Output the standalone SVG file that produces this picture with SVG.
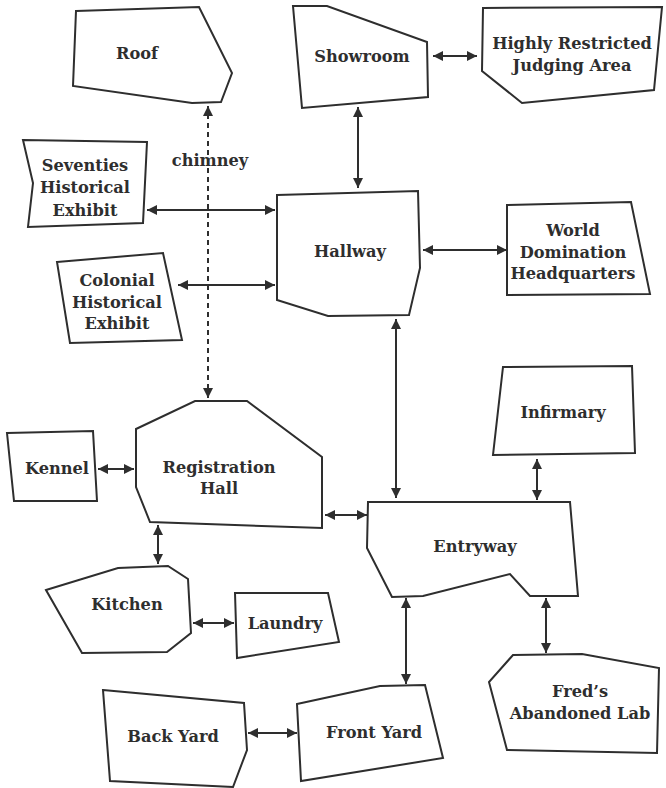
<svg xmlns="http://www.w3.org/2000/svg" width="666" height="788" viewBox="0 0 666 788">
<defs>
<marker id="ah" viewBox="0 0 10 10" refX="10" refY="5" markerWidth="5.5" markerHeight="5" orient="auto-start-reverse" markerUnits="strokeWidth">
<path d="M0,0 L10,5 L0,10 z" fill="#2e2e2e"/>
</marker>
<style>
.n{fill:#fff;stroke:#2e2e2e;stroke-width:2;stroke-linejoin:miter}
.t{font-family:"DejaVu Serif","Liberation Serif",serif;font-weight:bold;font-size:16.2px;fill:#2e2e2e;text-anchor:middle}
.c{fill:none;stroke:#2e2e2e;stroke-width:2}
.d{stroke-dasharray:5,4}
</style>
</defs>
<rect width="666" height="788" fill="#fff"/>
<g id="connectors">
<line class="c d" x1="208" y1="398" x2="208" y2="106" marker-start="url(#ah)" marker-end="url(#ah)"/>
<line class="c" x1="433" y1="56" x2="477" y2="56" marker-start="url(#ah)" marker-end="url(#ah)"/>
<line class="c" x1="358" y1="107" x2="358" y2="188" marker-start="url(#ah)" marker-end="url(#ah)"/>
<line class="c" x1="147" y1="210" x2="275" y2="210" marker-start="url(#ah)" marker-end="url(#ah)"/>
<line class="c" x1="178" y1="285" x2="275" y2="285" marker-start="url(#ah)" marker-end="url(#ah)"/>
<line class="c" x1="423" y1="250" x2="507" y2="250" marker-start="url(#ah)" marker-end="url(#ah)"/>
<line class="c" x1="396" y1="319" x2="396" y2="498" marker-start="url(#ah)" marker-end="url(#ah)"/>
<line class="c" x1="98" y1="469" x2="134" y2="469" marker-start="url(#ah)" marker-end="url(#ah)"/>
<line class="c" x1="325" y1="515" x2="367" y2="515" marker-start="url(#ah)" marker-end="url(#ah)"/>
<line class="c" x1="158" y1="525" x2="158" y2="564" marker-start="url(#ah)" marker-end="url(#ah)"/>
<line class="c" x1="537" y1="459" x2="537" y2="500" marker-start="url(#ah)" marker-end="url(#ah)"/>
<line class="c" x1="193" y1="623" x2="234" y2="623" marker-start="url(#ah)" marker-end="url(#ah)"/>
<line class="c" x1="406" y1="598" x2="406" y2="684" marker-start="url(#ah)" marker-end="url(#ah)"/>
<line class="c" x1="546" y1="598" x2="546" y2="653" marker-start="url(#ah)" marker-end="url(#ah)"/>
<line class="c" x1="248" y1="733" x2="297" y2="733" marker-start="url(#ah)" marker-end="url(#ah)"/>
<text class="t" x="210" y="166">chimney</text>
</g>
<g id="roof">
<polygon class="n" points="76,11 199,7 232,73 221,102 192,103 73,86"/>
<text class="t" x="137" y="59">Roof</text>
</g>
<g id="showroom">
<polygon class="n" points="293,6 327,6 427,42 428,97 302,108"/>
<text class="t" x="362" y="62">Showroom</text>
</g>
<g id="judging">
<polygon class="n" points="483,8 662,7 654,90 522,103 482,71"/>
<text class="t" x="572" y="49">Highly Restricted</text>
<text class="t" x="572" y="71">Judging Area</text>
</g>
<g id="seventies">
<polygon class="n" points="23,140 147,142 143,223 28,227 33,183"/>
<text class="t" x="85" y="171">Seventies</text>
<text class="t" x="85" y="193">Historical</text>
<text class="t" x="85" y="216">Exhibit</text>
</g>
<g id="colonial">
<polygon class="n" points="57,262 163,253 182,340 70,343"/>
<text class="t" x="117" y="286">Colonial</text>
<text class="t" x="117" y="308">Historical</text>
<text class="t" x="117" y="329">Exhibit</text>
</g>
<g id="hallway">
<polygon class="n" points="277,195 418,191 420,268 409,315 328,316 277,300"/>
<text class="t" x="350" y="257">Hallway</text>
</g>
<g id="world">
<polygon class="n" points="507,205 631,202 650,294 507,295"/>
<text class="t" x="573" y="236">World</text>
<text class="t" x="573" y="258">Domination</text>
<text class="t" x="573" y="279">Headquarters</text>
</g>
<g id="registration">
<polygon class="n" points="136,429 195,401 247,401 322,457 322,528 150,522 136,487"/>
<text class="t" x="219" y="473">Registration</text>
<text class="t" x="219" y="494">Hall</text>
</g>
<g id="kennel">
<polygon class="n" points="7,433 93,431 97,501 14,501"/>
<text class="t" x="57" y="474">Kennel</text>
</g>
<g id="infirmary">
<polygon class="n" points="503,367 632,366 635,453 493,455"/>
<text class="t" x="563" y="418">Infirmary</text>
</g>
<g id="entryway">
<polygon class="n" points="368,502 570,502 578,596 530,596 510,574 423,596 392,597 367,548"/>
<text class="t" x="475" y="552">Entryway</text>
</g>
<g id="kitchen">
<polygon class="n" points="46,590 118,568 168,566 188,579 191,633 167,652 82,653"/>
<text class="t" x="127" y="610">Kitchen</text>
</g>
<g id="laundry">
<polygon class="n" points="235,593 328,593 339,642 237,658"/>
<text class="t" x="285" y="629">Laundry</text>
</g>
<g id="fred">
<polygon class="n" points="513,655 582,654 659,668 657,753 507,750 489,682"/>
<text class="t" x="580" y="697">Fred’s</text>
<text class="t" x="580" y="719">Abandoned Lab</text>
</g>
<g id="backyard">
<polygon class="n" points="103,690 244,703 247,750 233,787 110,781"/>
<text class="t" x="173" y="742">Back Yard</text>
</g>
<g id="frontyard">
<polygon class="n" points="297,704 380,686 425,685 443,758 301,781"/>
<text class="t" x="374" y="738">Front Yard</text>
</g>
</svg>
